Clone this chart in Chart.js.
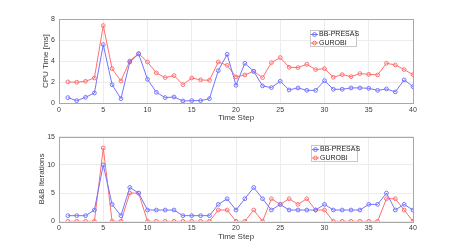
<!DOCTYPE html>
<html><head><meta charset="utf-8">
<script src="https://cdn.jsdelivr.net/npm/chart.js@4/dist/chart.umd.min.js"></script>
<style>
html,body{margin:0;padding:0;background:#fff;width:457px;height:249px;overflow:hidden;}
.wrap{position:absolute;left:0;}
canvas{display:block;}
</style></head>
<body>
<div class="wrap" style="top:0"><canvas id="c1" width="457" height="125"></canvas></div>
<div class="wrap" style="top:125px"><canvas id="c2" width="457" height="124"></canvas></div>
<script>
const steps = Array.from({length: 40}, (_, i) => i + 1);
const seriesNames = ['BB-PRESAS', 'GUROBI'];
const xTicks = [0, 5, 10, 15, 20, 25, 30, 35, 40];
const cpuTicks = [0, 2, 4, 6, 8];
const iterTicks = [0, 5, 10, 15];

const cpuBB = [0.54, 0.25, 0.57, 0.98, 5.57, 1.77, 0.44, 3.92, 4.68, 2.28,
  1.04, 0.54, 0.6, 0.22, 0.25, 0.25, 0.44, 3.1, 4.65, 1.71,
  3.8, 3.04, 1.65, 1.49, 2.09, 1.27, 1.46, 1.23, 1.23, 2.15,
  1.33, 1.33, 1.46, 1.46, 1.42, 1.23, 1.36, 1.08, 2.22, 1.58];
const cpuGurobi = [2.03, 2.0, 2.09, 2.4, 7.37, 3.29, 2.12, 4.02, 4.72, 3.92,
  2.88, 2.44, 2.63, 1.77, 2.4, 2.22, 2.18, 3.92, 3.6, 2.5,
  2.69, 3.04, 2.44, 3.86, 4.34, 3.42, 3.39, 3.7, 3.2, 3.29,
  2.47, 2.72, 2.53, 2.82, 2.75, 2.69, 3.8, 3.64, 3.2, 2.72];
const iterBB = [1, 1, 1, 2, 10, 3, 1, 6, 5, 2,
  2, 2, 2, 1, 1, 1, 1, 3, 4, 2,
  4, 6, 4, 2, 3, 2, 2, 2, 2, 3,
  2, 2, 2, 2, 3, 3, 5, 2, 3, 2];
const iterGurobi = [0, 0, 0, 0, 13, 0, 0, 5, 5, 0,
  0, 0, 0, 0, 0, 0, 0, 2, 2, 0,
  0, 2, 0, 4, 3, 4, 3, 4, 2, 2,
  0, 0, 0, 0, 0, 0, 4, 4, 2, 0];

const BLUE = '#7474ff';
const RED = '#ff7070';
const FONT = "'Liberation Sans', Arial, sans-serif";
const TXT = '#3a3a3a';

function makeDs(label, vals, color) {
  return {
    label, data: steps.map((s, i) => ({x: s, y: vals[i]})),
    borderColor: color, backgroundColor: 'rgba(0,0,0,0)',
    borderWidth: 1, pointRadius: 1.9, pointBorderWidth: 1,
    pointBorderColor: color, pointBackgroundColor: 'rgba(255,255,255,0)',
    tension: 0
  };
}

const boxPlugin = {
  id: 'box',
  afterDatasetsDraw(chart) {
    const a = chart.chartArea, ctx = chart.ctx;
    ctx.save();
    ctx.strokeStyle = '#a8a8a8';
    ctx.lineWidth = 1;
    ctx.strokeRect(Math.round(a.left) + 0.5, Math.round(a.top) + 0.5,
      Math.round(a.right - a.left), Math.round(a.bottom - a.top));
    ctx.restore();
  }
};

const legendPlugin = {
  id: 'mlegend',
  afterDraw(chart, args, opts) {
    const ctx = chart.ctx;
    const x = opts.x, y = opts.y, w = opts.w, h = opts.h;
    ctx.save();
    ctx.fillStyle = '#fff';
    ctx.fillRect(x, y, w, h);
    ctx.strokeStyle = '#c8c8c8';
    ctx.lineWidth = 1;
    ctx.strokeRect(x + 0.5, y + 0.5, w, h);
    ctx.font = '7px ' + FONT;
    ctx.textBaseline = 'middle';
    chart.data.datasets.forEach((ds, i) => {
      const cy = y + 4.5 + i * 8.5;
      ctx.strokeStyle = ds.borderColor;
      ctx.beginPath();
      ctx.moveTo(x + 1, cy); ctx.lineTo(x + 8, cy); ctx.stroke();
      ctx.beginPath();
      ctx.arc(x + 4.5, cy, 1.9, 0, Math.PI * 2); ctx.stroke();
      ctx.fillStyle = '#222';
      ctx.fillText(ds.label, x + 9, cy);
    });
    ctx.restore();
  }
};

function makeChart(id, d1, d2, yMax, yTicks, yTitle, cfg) {
  return new Chart(document.getElementById(id), {
    type: 'line',
    data: {datasets: [makeDs(seriesNames[0], d1, BLUE), makeDs(seriesNames[1], d2, RED)]},
    options: {
      responsive: false, animation: false, devicePixelRatio: 1,
      layout: {padding: {top: cfg.padTop, right: 44, left: 0, bottom: 0}},
      plugins: {legend: {display: false}, tooltip: {enabled: false},
        mlegend: cfg.legend},
      scales: {
        x: {
          type: 'linear', min: 0, max: 40,
          afterBuildTicks: s => { s.ticks = xTicks.map(v => ({value: v})); },
          afterFit: s => { s.height = cfg.xH; },
          grid: {color: '#ececec', drawTicks: false},
          border: {display: false},
          ticks: {font: {family: FONT, size: 7}, color: TXT, padding: 3, maxRotation: 0},
          title: {display: true, text: 'Time Step', font: {family: FONT, size: 8}, color: TXT,
            padding: {top: 0, bottom: cfg.xTitlePad}}
        },
        y: {
          type: 'linear', min: 0, max: yMax,
          afterBuildTicks: s => { s.ticks = yTicks.map(v => ({value: v})); },
          afterFit: s => { s.width = 59; },
          grid: {color: '#ececec', drawTicks: false},
          border: {display: false},
          ticks: {font: {family: FONT, size: 7}, color: TXT, padding: 4},
          title: {display: true, text: yTitle, font: {family: FONT, size: 8}, color: TXT,
            padding: {top: cfg.yTitlePad, bottom: 0}}
        }
      }
    },
    plugins: [boxPlugin, legendPlugin]
  });
}

makeChart('c1', cpuBB, cpuGurobi, 8, cpuTicks, 'CPU Time [ms]',
  {padTop: 19, xH: 21.7, xTitlePad: 2, yTitlePad: 41,
   legend: {x: 310, y: 30, w: 46, h: 16}});
makeChart('c2', iterBB, iterGurobi, 15, iterTicks, 'B&B Iterations',
  {padTop: 11.7, xH: 27.7, xTitlePad: 7, yTitlePad: 37,
   legend: {x: 311, y: 20, w: 46, h: 16}});
</script>
</body></html>
